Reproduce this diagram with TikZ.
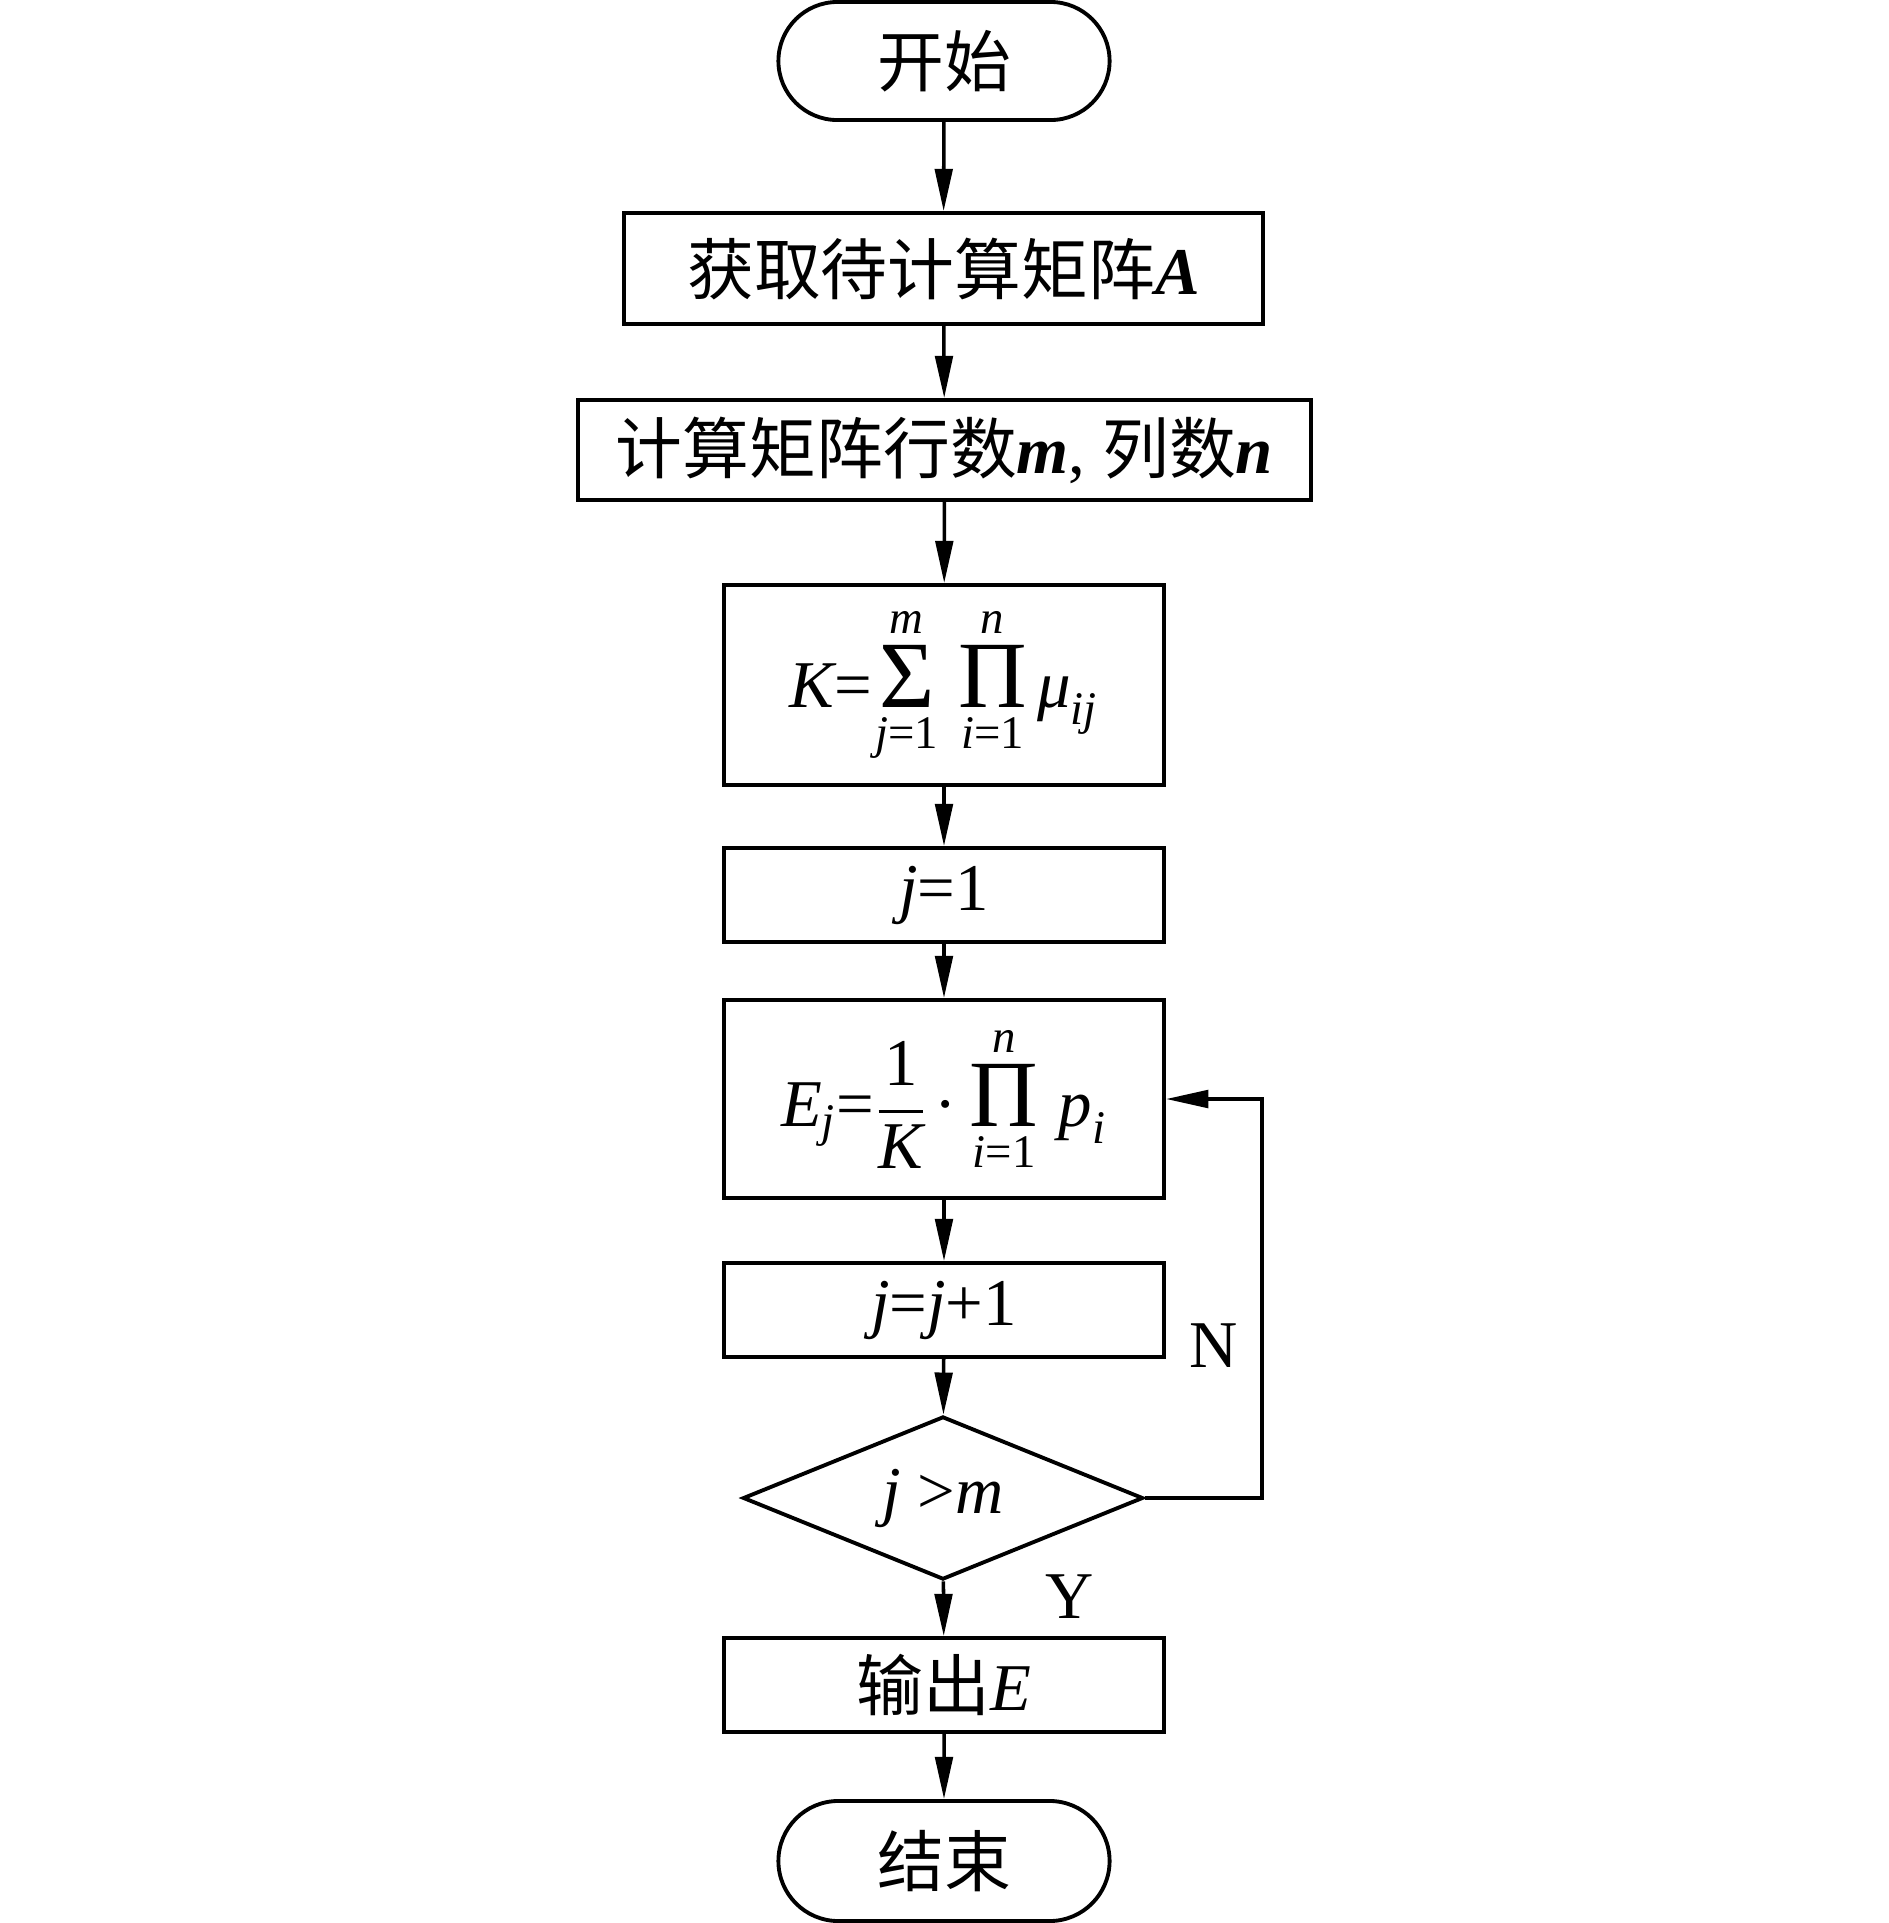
\documentclass[tikz,border=0pt]{standalone}
\usepackage{amsmath}
\usepackage{fontspec}
\setmainfont{Liberation Serif}
\newfontfamily\cjk{Noto Sans CJK SC}
\newcommand\ti[1]{\text{\itshape #1}}
\newcommand\tu[1]{\text{#1}}
\newcommand\bigop[1]{\mathop{\text{\fontsize{27}{30}\selectfont #1}}}
\usetikzlibrary{shapes.geometric,shapes.misc,arrows.meta}
\tikzset{
  basebox/.style={draw, line width=1.1pt, inner sep=0pt, font=\fontsize{19}{23}\selectfont},
  procbox/.style={basebox, rectangle},
  termbox/.style={basebox, rounded rectangle},
  decbox/.style={basebox, diamond},
  arr/.style={line width=1.0pt, -{Triangle[length=12pt,width=5pt]}},
  lbl/.style={font=\fontsize{19}{23}\selectfont, inner sep=0pt}
}
\begin{document}
\begin{tikzpicture}[x=0.01cm,y=-0.01cm]
\useasboundingbox[fill=white] (0,0) rectangle (1889,1923);
\node[termbox, minimum width=3.31cm, minimum height=1.18cm] (start) at (944,61) {\cjk 开始};
\node[procbox, minimum width=6.39cm, minimum height=1.11cm] (b1) at (943.5,268.5) {{\cjk 获取待计算矩阵}\textbf{\textit{A}}};
\node[procbox, minimum width=7.33cm, minimum height=1.00cm] (b2) at (944.5,450) {{\cjk 计算矩阵行数}\textbf{\textit{m}}, {\cjk 列数}\textbf{\textit{n}}};
\node[procbox, minimum width=4.40cm, minimum height=2.00cm] (b3) at (944,685) {$\ti{K}\tu{=}\mkern-2mu\bigop{Σ}\limits_{\ti{j}\tu{=1}}^{\ti{m}}\mkern3mu\bigop{Π}\limits_{\ti{i}\tu{=1}}^{\ti{n}}\ti{μ}_{\ti{ij}}$};
\node[procbox, minimum width=4.40cm, minimum height=0.94cm] (b4) at (944,895) {\textit{j}=1};
\node[procbox, minimum width=4.40cm, minimum height=1.98cm] (b5) at (944,1099) {$\ti{E}_{\ti{j}}\tu{=}\genfrac{}{}{1.1pt}{0}{\tu{1}}{\ti{K}}\mkern2mu\tu{·}\mkern1mu\bigop{Π}\limits_{\ti{i}\tu{=1}}^{\ti{n}}\,\ti{p}_{\ti{i}}$};
\node[procbox, minimum width=4.40cm, minimum height=0.94cm] (b6) at (944,1310) {\textit{j}=\textit{j}+1};
\node[decbox, minimum width=4.00cm, minimum height=1.63cm, shape aspect=2.45] (d) at (943,1498) {\textit{j} {>}\textit{m}};
\node[procbox, minimum width=4.40cm, minimum height=0.94cm] (b7) at (944,1685) {{\cjk 输出}\textit{E}};
\node[termbox, minimum width=3.31cm, minimum height=1.20cm] (end) at (944,1861) {\cjk 结束};
\coordinate (lp) at (1262,1498);
\draw[arr] (start) -- (b1);
\draw[arr] (b1) -- (b2);
\draw[arr] (b2) -- (b3);
\draw[arr] (b3) -- (b4);
\draw[arr] (b4) -- (b5);
\draw[arr] (b5) -- (b6);
\draw[arr] (b6) -- (d);
\draw[arr] (d) -- (b7);
\draw[arr] (b7) -- (end);
\draw[arr] (d.east) -- (lp) |- (b5.east);
\node[lbl] (nlab) at (1214,1346) {N};
\node[lbl] (ylab) at (1070,1597) {Y};
\end{tikzpicture}
\end{document}
